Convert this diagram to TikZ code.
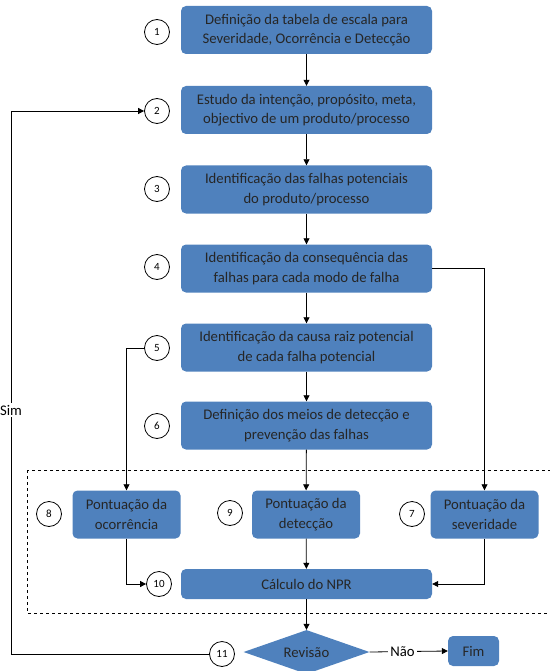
\documentclass[tikz,border=0pt]{standalone}
\usepackage{fontspec}
\setmainfont{Carlito}
\usetikzlibrary{shapes.geometric,arrows.meta}
\definecolor{boxblue}{HTML}{4F81BD}
\tikzset{
  stepbox/.style={rectangle, rounded corners=5pt, fill=boxblue, text=black!85,
    align=center, minimum width=251pt, minimum height=48pt, inner sep=0pt,
    font=\fontsize{14.7}{19.5}\selectfont},
  smallbox/.style={stepbox, minimum width=108pt},
  num/.style={circle, draw, thick, minimum size=25pt, inner sep=0pt,
    font=\fontsize{11}{13}\selectfont},
  arr/.style={thick, -{Triangle[length=6pt,width=6pt]}},
  lbl/.style={fill=white, inner sep=2pt, font=\fontsize{14.7}{19.5}\selectfont}
}
\begin{document}
\begin{tikzpicture}[x=1pt,y=-1pt]
\useasboundingbox (0,0) rectangle (549,671);

\draw[thick, dashed] (27,470) rectangle (560,613);

\node[stepbox] (b1) at (306.5,30) {Definição da tabela de escala para\\Severidade, Ocorrência e Detecção};
\node[stepbox] (b2) at (306.5,110) {Estudo da intenção, propósito, meta,\\objectivo de um produto/processo};
\node[stepbox] (b3) at (306.5,189.5) {Identificação das falhas potenciais\\do produto/processo};
\node[stepbox] (b4) at (306.5,268.5) {Identificação da consequência das\\falhas para cada modo de falha};
\node[stepbox] (b5) at (306.5,347.5) {Identificação da causa raiz potencial\\de cada falha potencial};
\node[stepbox] (b6) at (306.5,425.5) {Definição dos meios de detecção e\\prevenção das falhas};

\node[smallbox] (b8) at (126.5,514.5) {Pontuação da\\ocorrência};
\node[smallbox] (b9) at (306,514.5) {Pontuação da\\detecção};
\node[smallbox] (b7) at (484.5,514.5) {Pontuação da\\severidade};
\node[stepbox, minimum height=30pt] (npr) at (306.5,584) {Cálculo do NPR};

\node[diamond, fill=boxblue, text=black!85, minimum width=126pt, minimum height=44pt,
  inner sep=0pt, aspect=2.8, font=\fontsize{14.7}{19.5}\selectfont] (rev) at (306.5,652) {Revisão};
\node[stepbox, minimum width=51pt, minimum height=30pt] (fim) at (473.5,651) {Fim};

\node[num] (c1) at (157,32) {1};
\node[num] (c2) at (157,111) {2};
\node[num] (c3) at (157,189) {3};
\node[num] (c4) at (157,267) {4};
\node[num] (c5) at (157,348) {5};
\node[num] (c6) at (157,426) {6};
\node[num] (c8) at (49,514) {8};
\node[num] (c9) at (230,513) {9};
\node[num] (c7) at (412,514) {7};
\node[num] (c10) at (159,584) {10};
\node[num] (c11) at (222,654) {11};

\draw[arr] (b1) -- (b2);
\draw[arr] (b2) -- (b3);
\draw[arr] (b3) -- (b4);
\draw[arr] (b4) -- (b5);
\draw[arr] (b5) -- (b6);
\draw[arr] (b6) -- (b9);
\draw[arr] (b9) -- (npr);
\draw[arr] (npr) -- (rev);

\draw[arr] (b4.east) -| (b7.north);
\draw[arr] (c5.west) -| (b8.north);
\draw[arr] (b8.south) |- (c10.west);
\draw[arr] (b7.south) |- (npr.east);

\coordinate (back) at (11,654);
\draw[arr] (c11.west) -- (back) |- (c2.west);
\node[lbl] (sim) at (11,410) {Sim};

\draw[arr] (rev.east) -- node[lbl, pos=0.42] {Não} (fim.west);
\end{tikzpicture}
\end{document}
